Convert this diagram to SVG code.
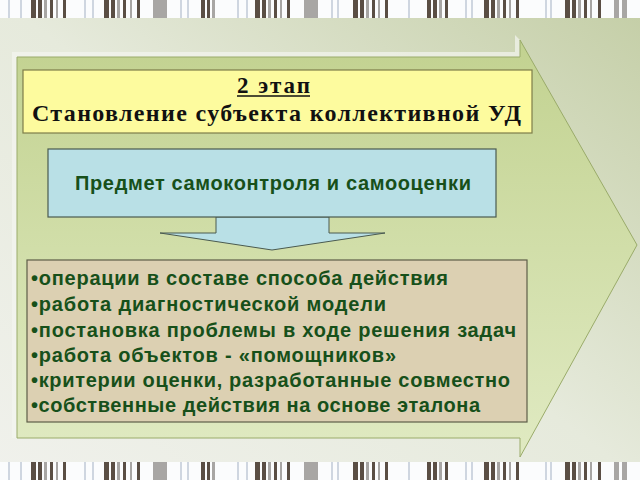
<svg xmlns="http://www.w3.org/2000/svg" width="640" height="480" viewBox="0 0 640 480">
<defs>
<linearGradient id="bg" x1="0" y1="1" x2="1" y2="0">
<stop offset="0" stop-color="#f0f1ec"/>
<stop offset="0.5" stop-color="#e6eadc"/>
<stop offset="1" stop-color="#c4cea6"/>
</linearGradient>
<linearGradient id="arr" x1="0" y1="0" x2="0" y2="1">
<stop offset="0" stop-color="#c2d290"/>
<stop offset="1" stop-color="#e0eac2"/>
</linearGradient>
</defs>
<style>
.bar{fill:#5a4e44}
.barl{fill:#a8a6a4}
.barb{fill:#cfd6e0}
.title{font-family:"Liberation Serif","Times New Roman",serif;font-weight:bold;fill:#111}
.sans{font-family:"Liberation Sans",Arial,sans-serif;font-weight:bold;fill:#17501a}
</style>
<rect width="640" height="480" fill="url(#bg)"/>
<g id="strips">
<rect x="0" y="0" width="640" height="18" fill="#fbfcfd"/>
<rect x="0" y="462" width="640" height="18" fill="#fbfcfd"/>
<g id="barset">
<rect class="barb" x="8" y="0" width="2" height="18"/>
<rect class="barb" x="20" y="0" width="2" height="18"/>
<rect class="bar" x="31" y="0" width="5" height="18"/><rect class="bar" x="38" y="0" width="4" height="18"/><rect class="barl" x="44" y="0" width="3" height="18"/><rect class="bar" x="50" y="0" width="3" height="18"/><rect class="barl" x="56" y="0" width="2" height="18"/><rect class="bar" x="63" y="0" width="3" height="18"/>
<rect class="barb" x="84" y="0" width="2" height="18"/><rect class="barb" x="92" y="0" width="2" height="18"/>
<rect class="bar" x="104" y="0" width="5" height="18"/><rect class="bar" x="111" y="0" width="4" height="18"/><rect class="barl" x="117" y="0" width="3" height="18"/><rect class="bar" x="123" y="0" width="3" height="18"/><rect class="barl" x="130" y="0" width="2" height="18"/><rect class="bar" x="137" y="0" width="3" height="18"/>
<rect class="barl" x="153" y="0" width="14" height="18"/>
<rect class="barb" x="180" y="0" width="2" height="18"/><rect class="barb" x="187" y="0" width="2" height="18"/>
<rect class="bar" x="201" y="0" width="4" height="18"/><rect class="bar" x="207" y="0" width="3" height="18"/><rect class="barl" x="212" y="0" width="3" height="18"/>
<rect class="barb" x="237" y="0" width="2" height="18"/><rect class="barb" x="246" y="0" width="2" height="18"/>
<rect class="bar" x="255" y="0" width="5" height="18"/><rect class="bar" x="262" y="0" width="4" height="18"/><rect class="barl" x="268" y="0" width="3" height="18"/><rect class="bar" x="274" y="0" width="3" height="18"/><rect class="barl" x="280" y="0" width="2" height="18"/><rect class="bar" x="287" y="0" width="3" height="18"/>
<rect class="barl" x="304" y="0" width="14" height="18"/>
<rect class="barb" x="331" y="0" width="2" height="18"/><rect class="barb" x="337" y="0" width="2" height="18"/>
<rect class="bar" x="353" y="0" width="5" height="18"/><rect class="bar" x="360" y="0" width="4" height="18"/><rect class="barl" x="366" y="0" width="3" height="18"/><rect class="bar" x="372" y="0" width="3" height="18"/><rect class="barl" x="378" y="0" width="2" height="18"/><rect class="bar" x="385" y="0" width="3" height="18"/>
<rect class="barb" x="408" y="0" width="2" height="18"/>
<rect class="bar" x="427" y="0" width="4" height="18"/><rect class="bar" x="433" y="0" width="4" height="18"/><rect class="barl" x="439" y="0" width="3" height="18"/><rect class="bar" x="445" y="0" width="3" height="18"/>
<rect class="barb" x="465" y="0" width="2" height="18"/><rect class="barb" x="471" y="0" width="2" height="18"/>
<rect class="bar" x="484" y="0" width="5" height="18"/><rect class="bar" x="491" y="0" width="4" height="18"/><rect class="barl" x="497" y="0" width="3" height="18"/><rect class="bar" x="503" y="0" width="3" height="18"/><rect class="barl" x="509" y="0" width="2" height="18"/><rect class="bar" x="516" y="0" width="3" height="18"/>
<rect class="barb" x="545" y="0" width="2" height="18"/><rect class="barb" x="550" y="0" width="2" height="18"/>
<rect class="bar" x="565" y="0" width="5" height="18"/><rect class="bar" x="572" y="0" width="4" height="18"/><rect class="barl" x="578" y="0" width="3" height="18"/><rect class="bar" x="584" y="0" width="3" height="18"/><rect class="barl" x="590" y="0" width="2" height="18"/><rect class="bar" x="598" y="0" width="3" height="18"/>
<rect class="barl" x="614" y="0" width="5" height="18"/><rect class="barl" x="622" y="0" width="5" height="18"/>
</g>
<use href="#barset" y="462"/>
</g>
<g id="big-arrow">
<polygon points="12,52 515,52 515,35 520,40 520,57 17,57 17,438 12,438" fill="#f4f5f0" opacity="0.7"/>
<polygon points="17,57 520,57 520,40 637,245 520,457 520,438 17,438" fill="url(#arr)" stroke="#9aab6a" stroke-width="1"/>
</g>
<g id="connectors">
<polygon points="216,217 329,217 329,233 385,233 272,250 160,233 216,233" fill="#b9e0e6" stroke="#4a5a50" stroke-width="1"/>
</g>
<g id="stage">
<rect x="23" y="70" width="509" height="63" fill="#fdfb9e" stroke="#7d7d4a" stroke-width="1.2"/>
<text class="title" x="237" y="93" font-size="23" textLength="73" lengthAdjust="spacing">2 этап</text>
<line x1="237" y1="96" x2="310" y2="96" stroke="#111" stroke-width="1.6"/>
<text class="title" x="32" y="121" font-size="24" textLength="489" lengthAdjust="spacing">Становление субъекта коллективной УД</text>
</g>
<g id="subject">
<rect x="48" y="149" width="448" height="68" fill="#b9e0e6" stroke="#4a5a50" stroke-width="1.2"/>
<text class="sans" x="75" y="190" font-size="20" textLength="396" lengthAdjust="spacing">Предмет самоконтроля и самооценки</text>
</g>
<g id="list">
<rect x="27" y="260" width="500" height="162" fill="#dcd0b2" stroke="#5e5e48" stroke-width="1.2"/>
<g class="sans" font-size="20">
<text x="31" y="285" textLength="417" lengthAdjust="spacing">•операции в составе способа действия</text>
<text x="31" y="311" textLength="355" lengthAdjust="spacing">•работа диагностической модели</text>
<text x="31" y="337" textLength="485" lengthAdjust="spacing">•постановка проблемы в ходе решения задач</text>
<text x="31" y="362" textLength="365" lengthAdjust="spacing">•работа объектов - «помощников»</text>
<text x="31" y="387" textLength="479" lengthAdjust="spacing">•критерии оценки, разработанные совместно</text>
<text x="31" y="412" textLength="449" lengthAdjust="spacing">•собственные действия на основе эталона</text>
</g>
</g>
</svg>
